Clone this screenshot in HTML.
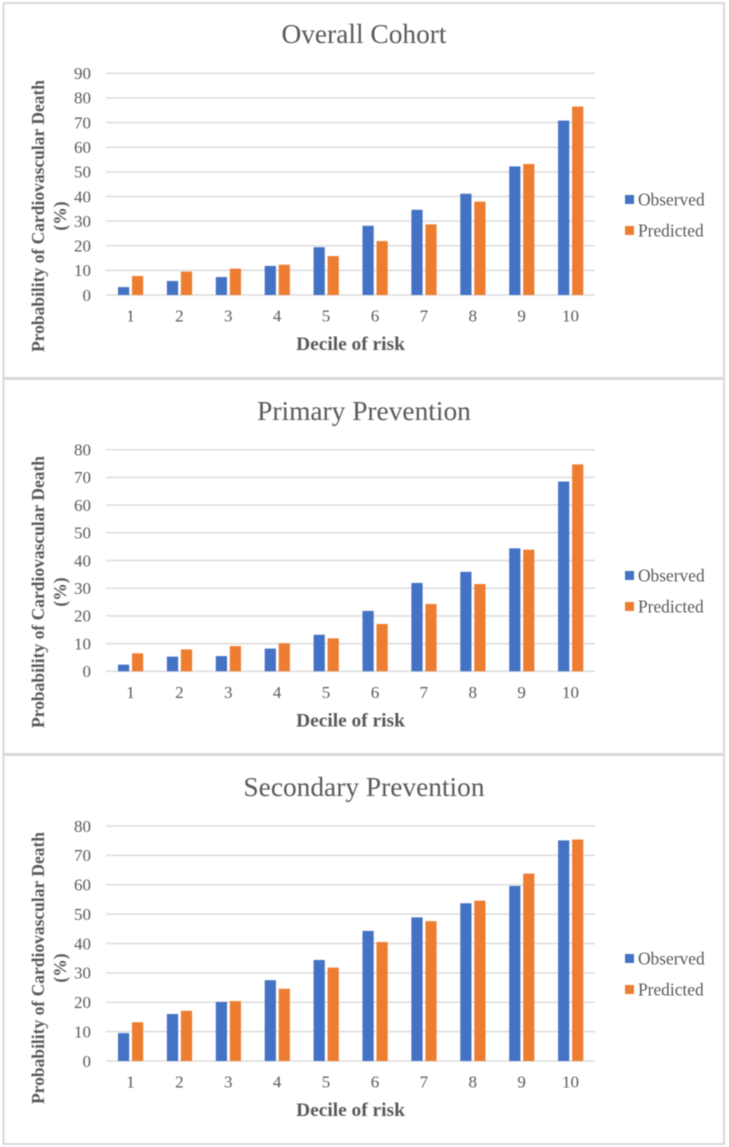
<!DOCTYPE html>
<html lang="en">
<head>
<meta charset="utf-8">
<title>Observed and predicted cardiovascular death by decile of risk</title>
<style>
html,body{margin:0;padding:0;background:#fff;width:729px;height:1147px;overflow:hidden}
svg{display:block;filter:blur(0.45px)}
text{font-family:"Liberation Serif",serif;fill:#595959}
</style>
</head>
<body>
<svg id="figure" xmlns="http://www.w3.org/2000/svg" width="729" height="1147" viewBox="0 0 729 1147"></svg>
<script>
const categories = ['1','2','3','4','5','6','7','8','9','10'];
const seriesNames = ['Observed','Predicted'];

const overallTicks = [0,10,20,30,40,50,60,70,80,90];
const overallObserved = [3.2,5.7,7.3,11.8,19.4,28.1,34.6,41.1,52.2,70.8];
const overallPredicted = [7.7,9.5,10.7,12.3,15.8,21.9,28.7,37.9,53.2,76.5];

const primaryTicks = [0,10,20,30,40,50,60,70,80];
const primaryObserved = [2.4,5.3,5.5,8.2,13.2,21.8,31.9,35.9,44.4,68.5];
const primaryPredicted = [6.5,7.9,9.1,10.1,11.9,17.1,24.3,31.5,43.9,74.7];

const secondaryTicks = [0,10,20,30,40,50,60,70,80];
const secondaryObserved = [9.5,16.0,20.1,27.5,34.4,44.3,48.9,53.7,59.6,75.1];
const secondaryPredicted = [13.2,17.1,20.4,24.6,31.8,40.5,47.6,54.6,63.8,75.4];

const NS = 'http://www.w3.org/2000/svg';
const figure = document.getElementById('figure');
const COLORS = ['#4472C4','#ED7D31'];

function make(parent, tag, attrs, content) {
  const el = document.createElementNS(NS, tag);
  for (const k in attrs) el.setAttribute(k, attrs[k]);
  if (content !== undefined) el.textContent = content;
  parent.appendChild(el);
  return el;
}

function drawPanel(name, title, ticks, observed, predicted, g) {
  const plotLeft = 106, plotRight = 595;
  const maxTick = ticks[ticks.length - 1];
  const yScale = v => g.y0 - v * (g.y0 - g.yTop) / maxTick;
  const band = (plotRight - plotLeft) / categories.length;
  const xScale = i => plotLeft + band * i;

  const panel = make(figure, 'g', {});
  
  

  const frame = make(panel, 'rect', {x: 3.5, y: g.top, width: 720.5, height: g.bottom - g.top, fill: '#fff', stroke: '#d9d9d9', 'stroke-width': 2});
  
  

  const titleEl = make(panel, 'text', {x: 364, y: g.titleY, 'text-anchor': 'middle', 'font-size': 27.4}, title);
  
  

  ticks.forEach(t => {
    const grid = make(panel, 'line', {x1: plotLeft, x2: plotRight, y1: yScale(t), y2: yScale(t), stroke: '#dcdcdc', 'stroke-width': 1.5});
    
    
    const label = make(panel, 'text', {x: 91, y: yScale(t) + 5.8, 'text-anchor': 'end', 'font-size': 17}, String(t));
    
    
  });

  [observed, predicted].forEach((values, s) => {
    values.forEach((v, i) => {
      const x = xScale(i) + 12 + s * 14;
      const bar = make(panel, 'rect', {x: x, y: yScale(v), width: 11.2, height: g.y0 - yScale(v), fill: COLORS[s]});
      
      
    });
  });

  categories.forEach((c, i) => {
    const label = make(panel, 'text', {x: xScale(i) + band / 2, y: g.y0 + 26.5, 'text-anchor': 'middle', 'font-size': 17}, c);
    
    
  });

  const xTitle = make(panel, 'text', {x: 350.5, y: g.y0 + 55, 'text-anchor': 'middle', 'font-size': 19.4, 'font-weight': 'bold'}, 'Decile of risk');
  
  

  const yTitle1 = make(panel, 'text', {transform: 'translate(44,' + g.yTitleY + ') rotate(-90)', 'text-anchor': 'middle', 'font-size': 17.5, 'font-weight': 'bold'}, 'Probability of Cardiovascular Death');
  
  
  const yTitle2 = make(panel, 'text', {transform: 'translate(66,' + g.yTitleY + ') rotate(-90)', 'text-anchor': 'middle', 'font-size': 17.5, 'font-weight': 'bold'}, '(%)');
  
  

  seriesNames.forEach((n, s) => {
    const ly = g.legendY + s * 31;
    const swatch = make(panel, 'rect', {x: 625, y: ly, width: 9, height: 9, fill: COLORS[s]});
    
    
    const label = make(panel, 'text', {x: 638, y: ly + 10.5, 'font-size': 17.4}, n);
    
    
  });
}

drawPanel('overall', 'Overall Cohort', overallTicks, overallObserved, overallPredicted,
  {top: 3, bottom: 378.5, y0: 295, yTop: 73.3, titleY: 43, yTitleY: 216, legendY: 195});
drawPanel('primary', 'Primary Prevention', primaryTicks, primaryObserved, primaryPredicted,
  {top: 378.5, bottom: 754.5, y0: 671.3, yTop: 449.7, titleY: 420, yTitleY: 592, legendY: 571});
drawPanel('secondary', 'Secondary Prevention', secondaryTicks, secondaryObserved, secondaryPredicted,
  {top: 754.5, bottom: 1144, y0: 1061, yTop: 826, titleY: 796, yTitleY: 968, legendY: 954});

const divider1 = make(figure, 'rect', {x: 3, y: 377, width: 721, height: 3, fill: '#d9d9d9'});


const divider2 = make(figure, 'rect', {x: 3, y: 753, width: 721, height: 3, fill: '#d9d9d9'});


</script>
</body>
</html>
